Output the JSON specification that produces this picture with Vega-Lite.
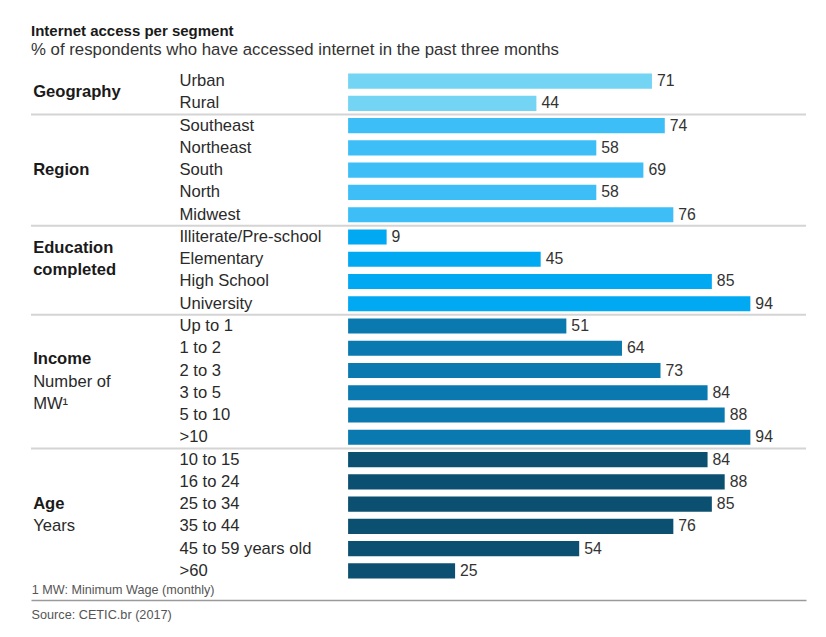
{
  "$schema": "https://vega.github.io/schema/vega-lite/v6.json",
  "autosize": "none",
  "width": 775,
  "height": 512,
  "padding": {"left": 31, "top": 70, "right": 20, "bottom": 55},
  "background": "white",
  "config": {"view": {"stroke": null}, "font": "Liberation Sans"},
  "title": {
    "text": "Internet access per segment",
    "subtitle": "% of respondents who have accessed internet in the past three months",
    "anchor": "start",
    "frame": "group",
    "font": "Liberation Sans",
    "fontSize": 15,
    "fontWeight": "bold",
    "color": "#1a1a1a",
    "subtitleFont": "Liberation Sans",
    "subtitleFontSize": 16.8,
    "subtitleColor": "#333333",
    "subtitlePadding": 3,
    "offset": 11
  },
  "datasets": {
    "bars": [
      {"group": "Geography", "label": "Urban", "value": 71},
      {"group": "Geography", "label": "Rural", "value": 44},
      {"group": "Region", "label": "Southeast", "value": 74},
      {"group": "Region", "label": "Northeast", "value": 58},
      {"group": "Region", "label": "South", "value": 69},
      {"group": "Region", "label": "North", "value": 58},
      {"group": "Region", "label": "Midwest", "value": 76},
      {"group": "Education", "label": "Illiterate/Pre-school", "value": 9},
      {"group": "Education", "label": "Elementary", "value": 45},
      {"group": "Education", "label": "High School", "value": 85},
      {"group": "Education", "label": "University", "value": 94},
      {"group": "Income", "label": "Up to 1", "value": 51},
      {"group": "Income", "label": "1 to 2", "value": 64},
      {"group": "Income", "label": "2 to 3", "value": 73},
      {"group": "Income", "label": "3 to 5", "value": 84},
      {"group": "Income", "label": "5 to 10", "value": 88},
      {"group": "Income", "label": ">10", "value": 94},
      {"group": "Age", "label": "10 to 15", "value": 84},
      {"group": "Age", "label": "16 to 24", "value": 88},
      {"group": "Age", "label": "25 to 34", "value": 85},
      {"group": "Age", "label": "35 to 44", "value": 76},
      {"group": "Age", "label": "45 to 59 years old", "value": 54},
      {"group": "Age", "label": ">60", "value": 25}
    ]
  },
  "encoding": {
    "y": {
      "field": "label",
      "type": "nominal",
      "sort": null,
      "axis": null,
      "scale": {
        "domain": ["Urban", "Rural", "Southeast", "Northeast", "South", "North", "Midwest", "Illiterate/Pre-school", "Elementary", "High School", "University", "Up to 1", "1 to 2", "2 to 3", "3 to 5", "5 to 10", ">10", "10 to 15", "16 to 24", "25 to 34", "35 to 44", "45 to 59 years old", ">60"],
        "paddingInner": 0,
        "paddingOuter": 0
      }
    }
  },
  "layer": [
    {
      "data": {"values": [{"label": "Southeast"}, {"label": "Illiterate/Pre-school"}, {"label": "Up to 1"}, {"label": "10 to 15"}]},
      "mark": {"type": "rule", "color": "#d4d4d4", "strokeWidth": 2},
      "encoding": {
        "y": {"field": "label", "type": "nominal", "bandPosition": 0}
      }
    },
    {
      "data": {"name": "bars"},
      "mark": {"type": "bar", "height": {"band": 0.68}},
      "encoding": {
        "x": {
          "field": "value",
          "type": "quantitative",
          "scale": {"domain": [-74.1, 107], "nice": false, "zero": false},
          "axis": {
            "orient": "bottom",
            "offset": 18,
            "labels": false,
            "ticks": false,
            "grid": false,
            "domain": true,
            "domainColor": "#9a9a9a",
            "domainWidth": 1.5,
            "title": "Source: CETIC.br (2017)",
            "titleAnchor": "start",
            "titleAlign": "left",
            "titleBaseline": "top",
            "titlePadding": 8,
            "titleFont": "Liberation Sans",
            "titleFontSize": 12.7,
            "titleFontWeight": "normal",
            "titleColor": "#555555"
          }
        },
        "color": {
          "field": "group",
          "type": "nominal",
          "legend": null,
          "scale": {
            "domain": ["Geography", "Region", "Education", "Income", "Age"],
            "range": ["#74D4F3", "#3EBEF6", "#01A8F2", "#0A79B0", "#0B4F71"]
          }
        }
      }
    },
    {
      "data": {"name": "bars"},
      "mark": {"type": "text", "align": "left", "baseline": "middle", "dx": 5, "fontSize": 15.8, "color": "#333333"},
      "encoding": {
        "x": {"field": "value", "type": "quantitative"},
        "text": {"field": "value", "type": "quantitative"}
      }
    },
    {
      "data": {"name": "bars"},
      "mark": {"type": "text", "align": "left", "baseline": "middle", "fontSize": 16.6, "color": "#2a2a2a"},
      "encoding": {
        "x": {"datum": -39.4},
        "text": {"field": "label", "type": "nominal"}
      }
    },
    {
      "data": {"values": [
        {"label": "Rural", "text": "Geography"},
        {"label": "Elementary", "text": "Education"},
        {"label": "High School", "text": "completed"},
        {"label": "2 to 3", "text": "Income"}
      ]},
      "mark": {"type": "text", "align": "left", "baseline": "middle", "fontSize": 16.6, "fontWeight": "bold", "color": "#1a1a1a"},
      "encoding": {
        "x": {"datum": -73.6},
        "y": {"field": "label", "type": "nominal", "bandPosition": 0},
        "text": {"field": "text", "type": "nominal"}
      }
    },
    {
      "data": {"values": [
        {"label": "South", "text": "Region"},
        {"label": "25 to 34", "text": "Age"}
      ]},
      "mark": {"type": "text", "align": "left", "baseline": "middle", "fontSize": 16.6, "fontWeight": "bold", "color": "#1a1a1a"},
      "encoding": {
        "x": {"datum": -73.6},
        "y": {"field": "label", "type": "nominal", "bandPosition": 0.5},
        "text": {"field": "text", "type": "nominal"}
      }
    },
    {
      "data": {"values": [
        {"label": "3 to 5", "text": "Number of"},
        {"label": "5 to 10", "text": "MW¹"}
      ]},
      "mark": {"type": "text", "align": "left", "baseline": "middle", "fontSize": 16.6, "color": "#2a2a2a"},
      "encoding": {
        "x": {"datum": -73.6},
        "y": {"field": "label", "type": "nominal", "bandPosition": 0},
        "text": {"field": "text", "type": "nominal"}
      }
    },
    {
      "data": {"values": [
        {"label": "35 to 44", "text": "Years"}
      ]},
      "mark": {"type": "text", "align": "left", "baseline": "middle", "fontSize": 16.6, "color": "#2a2a2a"},
      "encoding": {
        "x": {"datum": -73.6},
        "y": {"field": "label", "type": "nominal", "bandPosition": 0.5},
        "text": {"field": "text", "type": "nominal"}
      }
    },
    {
      "data": {"values": [
        {"label": ">60", "text": "1 MW: Minimum Wage (monthly)"}
      ]},
      "mark": {"type": "text", "align": "left", "baseline": "middle", "dy": 8, "fontSize": 12.6, "color": "#555555"},
      "encoding": {
        "x": {"datum": -73.9},
        "y": {"field": "label", "type": "nominal", "bandPosition": 1},
        "text": {"field": "text", "type": "nominal"}
      }
    }
  ]
}
